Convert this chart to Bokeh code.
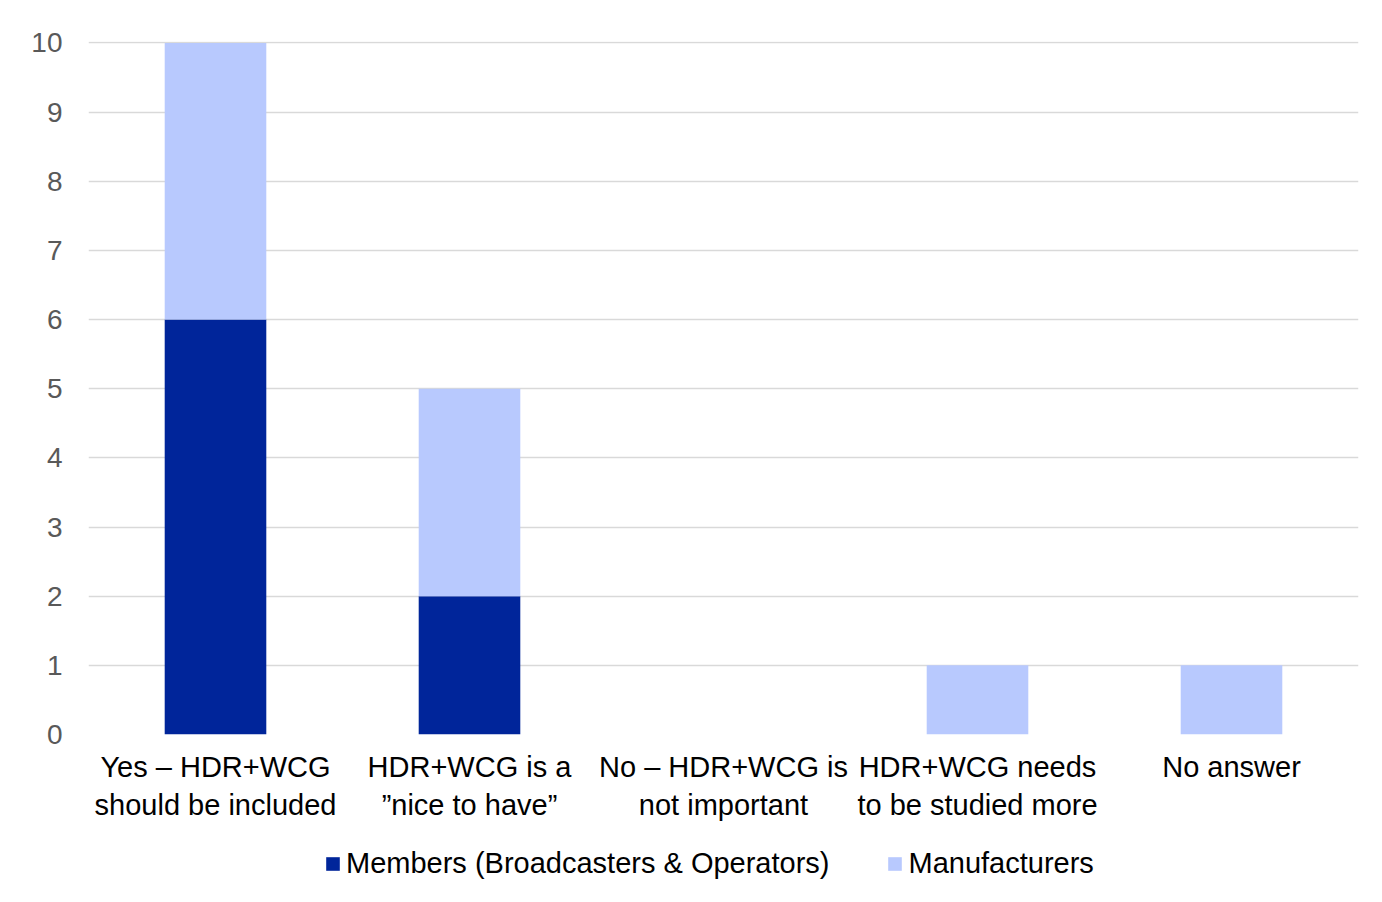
from bokeh.plotting import figure
from bokeh.layouts import column
from bokeh.models import Range1d, FixedTicker, Legend, LegendItem, ColumnDataSource
from bokeh.embed import file_html
from bokeh.resources import INLINE

categories = ["Yes – HDR+WCG\nshould be included", "HDR+WCG is a\n”nice to have”",
              "No – HDR+WCG is\nnot important", "HDR+WCG needs\nto be studied more", "No answer"]
members = [6, 2, 0, 0, 0]
manufacturers = [4, 3, 0, 1, 1]
series_names = ["Members (Broadcasters & Operators)", "Manufacturers"]
colors = ["#00259A", "#B8C9FE"]
y_ticks = list(range(0, 11))

xs = list(range(len(categories)))
src = ColumnDataSource(dict(x=xs, members=members, manufacturers=manufacturers))

p = figure(frame_width=1270, frame_height=693, output_backend="svg", toolbar_location=None,
           x_range=Range1d(-0.5, len(categories) - 0.5), y_range=Range1d(0, 10.02),
           min_border_left=88, min_border_right=24, min_border_top=41, min_border_bottom=100)

rs = p.vbar_stack(["members", "manufacturers"], x="x", width=0.4, color=colors,
                  line_color=None, source=src)

FONT = "Liberation Sans"
p.yaxis.ticker = FixedTicker(ticks=y_ticks)
p.xaxis.ticker = FixedTicker(ticks=xs)
p.xaxis.major_label_overrides = {i: c for i, c in enumerate(categories)}
for ax in (p.xaxis, p.yaxis):
    ax.axis_line_color = None
    ax.major_tick_line_color = None
    ax.minor_tick_line_color = None
    ax.major_label_text_font = FONT
p.yaxis.major_label_text_font_size = "28px"
p.xaxis.major_label_text_font_size = "29px"
p.yaxis.major_label_text_color = "#595959"
p.yaxis.major_label_standoff = 20
p.xaxis.major_label_text_color = "#000000"
p.xaxis.major_label_standoff = 10

p.xgrid.grid_line_color = None
p.ygrid.ticker = FixedTicker(ticks=y_ticks)
p.ygrid.grid_line_color = "#D9D9D9"
p.ygrid.grid_line_width = 1.5
p.outline_line_color = None

# legend strip below the chart (swatch renderers sit outside the strip's visible range)
lg = figure(width=1382, height=60, output_backend="svg", toolbar_location=None,
            x_range=Range1d(0, 1), y_range=Range1d(0, 1),
            x_axis_location=None, y_axis_location=None,
            min_border_left=0, min_border_right=0, min_border_top=0, min_border_bottom=0)
lg.grid.visible = False
lg.outline_line_color = None
swatch_src = ColumnDataSource(dict(x=[-5], top=[-5]))
dummies = [lg.vbar(x="x", top="top", width=0.1, color=c, line_color=None, source=swatch_src)
           for c in colors]

legend = Legend(items=[LegendItem(label=series_names[i], renderers=[dummies[i]]) for i in range(2)],
                orientation="horizontal", location=(236, 14))
legend.label_text_font = FONT
legend.label_text_font_size = "29px"
legend.label_text_color = "#000000"
legend.glyph_width = 17
legend.glyph_height = 17
legend.label_standoff = 5
legend.spacing = 57
legend.border_line_color = None
legend.background_fill_alpha = 0
legend.padding = 4
legend.margin = 0
lg.add_layout(legend, "center")

layout = column(p, lg, spacing=0)
open("out.html", "w").write(file_html(layout, INLINE))
